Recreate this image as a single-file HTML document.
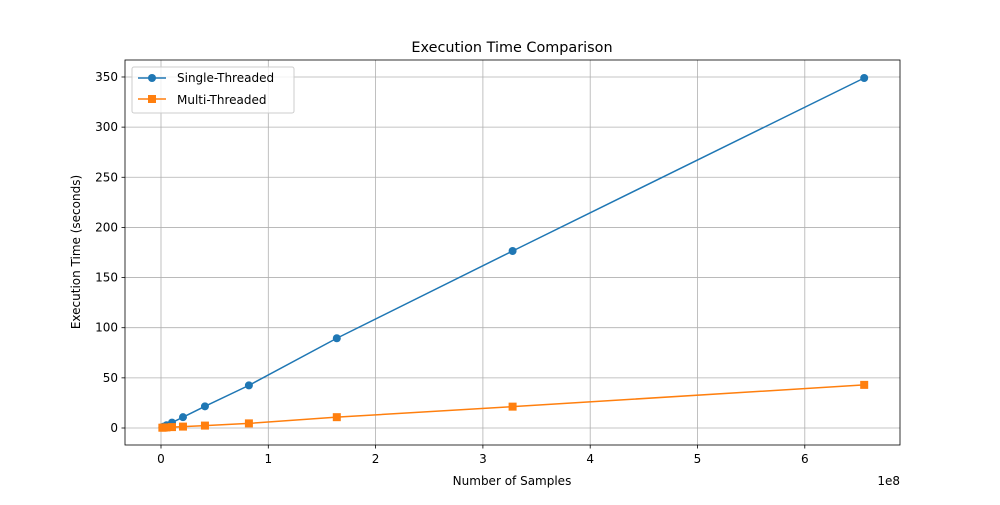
<!DOCTYPE html>
<html><head><meta charset="utf-8"><style>
body{margin:0;background:#fff;font-family:"Liberation Sans","DejaVu Sans",sans-serif}
text{font-family:"DejaVu Sans","Liberation Sans",sans-serif;fill:#000}
</style></head><body>
<svg id="chart" width="1000" height="500" xmlns="http://www.w3.org/2000/svg">
<rect width="1000" height="500" fill="#fff"/>
<g id="grid"></g><g id="axes"></g><g id="series"></g>
<rect x="125" y="60" width="775" height="385" fill="none" stroke="#000" stroke-width="0.8"/>
<text x="512" y="52" font-size="14.4" text-anchor="middle">Execution Time Comparison</text>
<text x="512" y="485" font-size="12" text-anchor="middle">Number of Samples</text>
<text x="900" y="485" font-size="12" text-anchor="end">1e8</text>
<text x="80" y="252" font-size="12" text-anchor="middle" transform="rotate(-90 80 252)">Execution Time (seconds)</text>
<g>
<rect x="132" y="67" width="162" height="46" fill="#fff" fill-opacity="0.8" stroke="#ccc" rx="2"/>
<line x1="138" y1="78" x2="166" y2="78" stroke="#1f77b4" stroke-width="1.5"/><circle cx="152" cy="78" r="4" fill="#1f77b4"/>
<text x="177" y="82" font-size="12">Single-Threaded</text>
<line x1="138" y1="99" x2="166" y2="99" stroke="#ff7f0e" stroke-width="1.5"/><rect x="148" y="95" width="8" height="8" fill="#ff7f0e"/>
<text x="177" y="104" font-size="12">Multi-Threaded</text>
</g>
</svg>
<script>
const samples=[1280000,2560000,5120000,10240000,20480000,40960000,81920000,163840000,327680000,655360000];
const singleTimes=[0.7,1.4,2.7,5.4,10.8,21.6,42.5,89.5,176.5,349];
const multiTimes=[0.3,0.4,0.6,0.9,1.4,2.4,4.6,10.8,21.3,43];
const xTicks=[0,1,2,3,4,5,6];
const yTicks=[0,50,100,150,200,250,300,350];
const NS="http://www.w3.org/2000/svg";
const xs=v=>161+v/1e8*107.3;
const ys=v=>428-v*1.0029;
function mk(t,a,p){const e=document.createElementNS(NS,t);for(const k in a)e.setAttribute(k,a[k]);p.appendChild(e);return e;}
const grid=document.getElementById('grid'),axes=document.getElementById('axes'),ser=document.getElementById('series');
xTicks.forEach(t=>{const x=xs(t*1e8);
const g=mk('line',{x1:x,x2:x,y1:60,y2:445,stroke:'#b0b0b0','stroke-width':0.8},grid);

mk('line',{x1:x,x2:x,y1:445,y2:448.5,stroke:'#000','stroke-width':0.8},axes);
const l=mk('text',{x:x,y:463,'font-size':12,'text-anchor':'middle'},axes);l.textContent=t;
});
yTicks.forEach(t=>{const y=ys(t);
const g=mk('line',{x1:125,x2:900,y1:y,y2:y,stroke:'#b0b0b0','stroke-width':0.8},grid);

mk('line',{x1:121.5,x2:125,y1:y,y2:y,stroke:'#000','stroke-width':0.8},axes);
const l=mk('text',{x:118,y:y+4,'font-size':12,'text-anchor':'end'},axes);l.textContent=t;
});
function series(vals,color,square,name){
const pts=samples.map((s,i)=>xs(s)+','+ys(vals[i])).join(' ');
const pl=mk('polyline',{points:pts,fill:'none',stroke:color,'stroke-width':1.5},ser);

samples.forEach((s,i)=>{const x=xs(s),y=ys(vals[i]);
const m=square?mk('rect',{x:x-4,y:y-4,width:8,height:8,fill:color},ser):mk('circle',{cx:x,cy:y,r:4,fill:color},ser);
});}
series(singleTimes,'#1f77b4',false,'single-threaded');
series(multiTimes,'#ff7f0e',true,'multi-threaded');
</script>
</body></html>
